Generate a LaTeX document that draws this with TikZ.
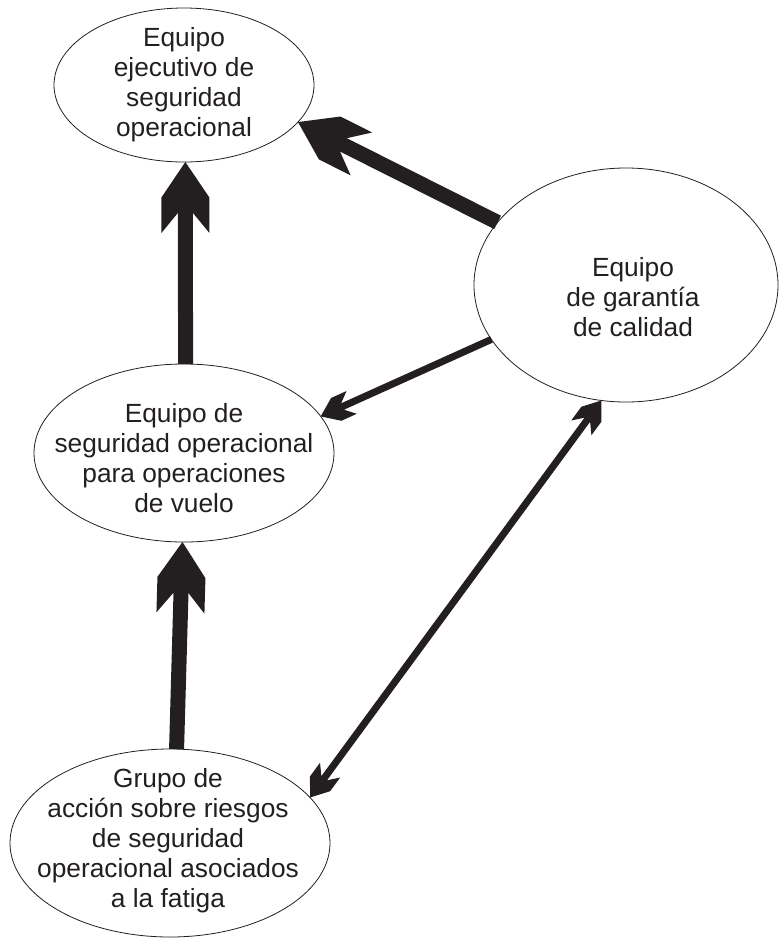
\documentclass[tikz,border=0pt]{standalone}
\usepackage{fontspec}
\setmainfont{Liberation Sans}
\usetikzlibrary{shapes.geometric,arrows.meta}

\definecolor{ink}{RGB}{35,31,32}

% Broad arrow head with square shoulders and swept-back barbs
\pgfdeclarearrow{
  name = Barbed,
  parameters = {\the\pgfarrowlength,\the\pgfarrowwidth},
  setup code = {
    \pgfarrowssettipend{0pt}
    \pgfarrowssetlineend{-0.6\pgfarrowlength}
    \pgfarrowssetbackend{-\pgfarrowlength}
    \pgfarrowsupperhullpoint{0pt}{0pt}
    \pgfarrowsupperhullpoint{-0.5\pgfarrowlength}{0.5\pgfarrowwidth}
    \pgfarrowsupperhullpoint{-\pgfarrowlength}{0.5\pgfarrowwidth}
    \pgfarrowssavethe\pgfarrowlength
    \pgfarrowssavethe\pgfarrowwidth
  },
  drawing code = {
    \pgfpathmoveto{\pgfqpoint{0pt}{0pt}}
    \pgfpathlineto{\pgfqpoint{-0.5\pgfarrowlength}{0.5\pgfarrowwidth}}
    \pgfpathlineto{\pgfqpoint{-\pgfarrowlength}{0.5\pgfarrowwidth}}
    \pgfpathlineto{\pgfqpoint{-0.72\pgfarrowlength}{0.16\pgfarrowwidth}}
    \pgfpathlineto{\pgfqpoint{-0.72\pgfarrowlength}{-0.16\pgfarrowwidth}}
    \pgfpathlineto{\pgfqpoint{-\pgfarrowlength}{-0.5\pgfarrowwidth}}
    \pgfpathlineto{\pgfqpoint{-0.5\pgfarrowlength}{-0.5\pgfarrowwidth}}
    \pgfpathclose
    \pgfusepathqfill
  },
  defaults = {length = 71pt, width = 48pt}
}

\tikzset{
  ell/.style={shape=ellipse, draw=ink, line width=0.8pt, inner sep=0pt, outer sep=0pt},
  lbl/.style={align=center, text=ink, inner sep=0pt,
              font=\fontsize{26.3}{30}\selectfont},
  heavy/.style={draw=ink, line width=15pt, -{Barbed[length=71pt,width=48pt]}},
  light/.style={draw=ink, line width=7pt, -{Barbed[length=34pt,width=25pt]}},
  twoway/.style={draw=ink, line width=7pt,
                 {Barbed[length=34pt,width=25pt]}-{Barbed[length=34pt,width=25pt]}},
}

\begin{document}
\begin{tikzpicture}[x=1pt,y=-1pt]
  \useasboundingbox (0,0) rectangle (780,938);

  % team ellipses
  \node[ell, minimum width=260pt, minimum height=154pt] (exec) at (184,85) {};
  \node[ell, minimum width=304pt, minimum height=234pt] (qa)   at (626,285) {};
  \node[ell, minimum width=300pt, minimum height=178pt] (ops)  at (184,453) {};
  \node[ell, minimum width=320pt, minimum height=188pt] (frag) at (170,843) {};

  % their texts
  \node[lbl] (execT) at (184,85)  {Equipo\\ejecutivo de\\seguridad\\operacional};
  \node[lbl] (qaT)   at (633,297) {Equipo\\de garantía\\de calidad};
  \node[lbl] (opsT)  at (184,458) {Equipo de\\seguridad operacional\\para operaciones\\de vuelo};
  \node[lbl] (fragT) at (168,841) {Grupo de\\acción sobre riesgos\\de seguridad\\operacional asociados\\a la fatiga};

  % reporting lines
  \draw[heavy]  (ops.89)   -- (exec.-89);
  \draw[heavy]  (frag.86)  -- (ops.-91);
  \draw[heavy]  (qa.154)   -- (exec.-18);
  \draw[light]  (qa.202)   -- (ops.15);
  \draw[twoway] (frag.18)  -- (qa.258);
\end{tikzpicture}
\end{document}
